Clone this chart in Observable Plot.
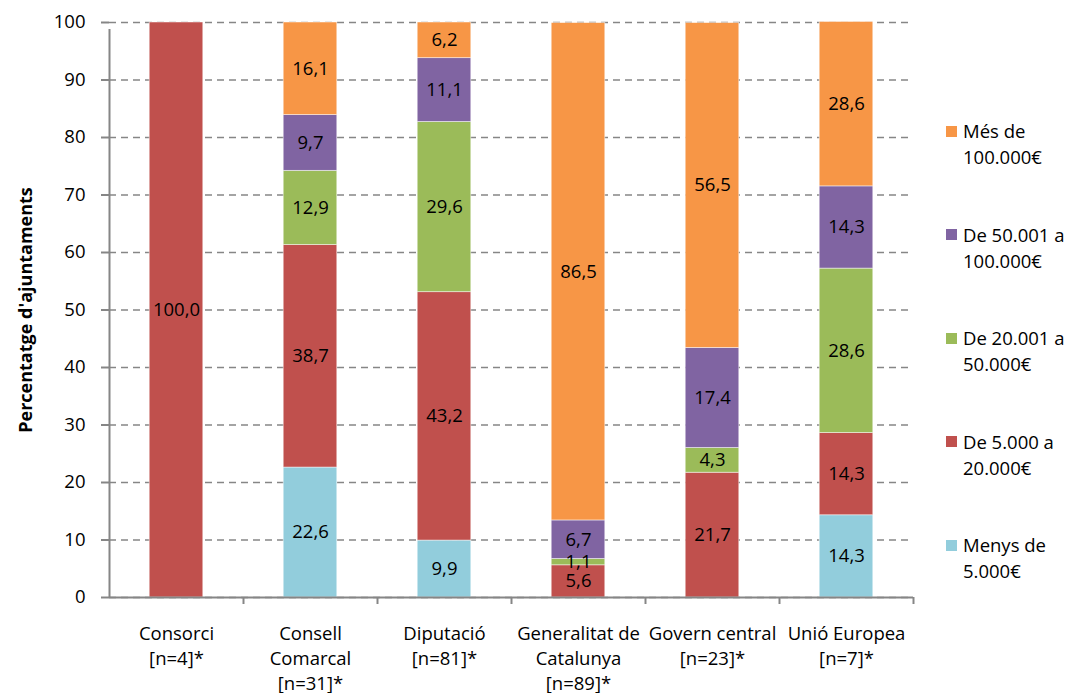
<!DOCTYPE html>
<html>
<head>
<meta charset="utf-8">
<script src="https://cdn.jsdelivr.net/npm/d3@7"></script>
<script src="https://cdn.jsdelivr.net/npm/@observablehq/plot@0.6"></script>
<style>
  html, body { margin: 0; padding: 0; background: #fff; }
  #wrap { position: relative; width: 1068px; height: 693px; font-family: "Open Sans", Lato, sans-serif; }
  #legend { position: absolute; left: 946px; top: 118px; font-size: 18.5px; color: #000; }
  .item { display: flex; align-items: flex-start; height: 52px; margin-bottom: 51.5px; }
  .sw { width: 11px; height: 11px; margin-top: 7.5px; margin-right: 6px; flex: none; }
  .lbl { line-height: 26px; white-space: pre; }
  g[aria-label="y-axis label"] text { font-weight: bold; font-size: 18px; }
</style>
</head>
<body>
<div id="wrap"><div id="chart"></div><div id="legend"></div></div>
<script>
const categories = ["Consorci", "Consell Comarcal", "Diputació", "Generalitat de Catalunya", "Govern central", "Unió Europea"];
const categoryLabels = ["Consorci\n[n=4]*", "Consell\nComarcal\n[n=31]*", "Diputació\n[n=81]*", "Generalitat de\nCatalunya\n[n=89]*", "Govern central\n[n=23]*", "Unió Europea\n[n=7]*"];
const seriesNames = ["Menys de 5.000€", "De 5.000 a 20.000€", "De 20.001 a 50.000€", "De 50.001 a 100.000€", "Més de 100.000€"];
const legendLabels = ["Menys de\n5.000€", "De 5.000 a\n20.000€", "De 20.001 a\n50.000€", "De 50.001 a\n100.000€", "Més de\n100.000€"];
const seriesColors = ["#92CDDC", "#C0504D", "#9BBB59", "#8064A2", "#F79646"];
const menys5000 = [0, 22.6, 9.9, 0, 0, 14.3];
const de5000a20000 = [100.0, 38.7, 43.2, 5.6, 21.7, 14.3];
const de20001a50000 = [0, 12.9, 29.6, 1.1, 4.3, 28.6];
const de50001a100000 = [0, 9.7, 11.1, 6.7, 17.4, 14.3];
const mes100000 = [0, 16.1, 6.2, 86.5, 56.5, 28.6];
const yTicks = [0, 10, 20, 30, 40, 50, 60, 70, 80, 90, 100];

const seriesValues = [menys5000, de5000a20000, de20001a50000, de50001a100000, mes100000];
const data = [];
seriesNames.forEach((s, si) => categories.forEach((c, ci) => {
  const v = seriesValues[si][ci];
  if (v > 0) data.push({category: c, series: s, value: v});
}));
const labelOf = new Map(categories.map((c, i) => [c, categoryLabels[i]]));
const fmt = v => v.toFixed(1).replace(".", ",");

const W = 1068, H = 693, mL = 109, mR = 155, mT = 22, mB = 96;
const bw = (W - mL - mR) / categories.length;
const gray = "#868686";

const chart = Plot.plot({
  width: W, height: H,
  marginLeft: mL, marginRight: mR, marginTop: mT, marginBottom: mB,
  style: {fontFamily: "'Open Sans', Lato, sans-serif", fontSize: "18.5px", color: "#000", background: "#fff"},
  x: {type: "band", domain: categories, paddingInner: 0, paddingOuter: 0},
  y: {domain: [0, 100]},
  color: {domain: seriesNames, range: seriesColors},
  marks: [
    Plot.gridY(yTicks, {stroke: gray, strokeOpacity: 1, strokeWidth: 1.6, strokeDasharray: "7,5"}),
    Plot.barY(data, Plot.stackY({x: "category", y: "value", fill: "series", order: seriesNames,
      insetLeft: bw * 0.3, insetRight: bw * 0.3, stroke: "#fff", strokeWidth: 0.8, strokeOpacity: 0.6})),
    Plot.text(data, Plot.stackY({x: "category", y: "value", z: "series", order: seriesNames,
      text: d => fmt(d.value), fill: "#000", fontSize: 18.5})),
    Plot.ruleX(categories, {x: d => d, dx: -bw / 2, y1: 0, y2: d => d === categories[0] ? 100 : 0, insetBottom: -7, stroke: gray, strokeWidth: 2}),
    Plot.ruleX([categories[categories.length - 1]], {x: d => d, dx: bw / 2, y1: 0, y2: 0, insetBottom: -7, stroke: gray, strokeWidth: 2}),
    Plot.ruleY([0], {stroke: gray, strokeWidth: 2}),
    Plot.axisY(yTicks, {tickSize: 8, tickPadding: 16, stroke: gray, fill: "#000", strokeWidth: 2,
      label: "Percentatge d'ajuntaments", labelAnchor: "center", labelArrow: "none", labelOffset: 90}),
    Plot.axisX({tickSize: 0, tickPadding: 25, tickFormat: c => labelOf.get(c), lineHeight: 1.35, fill: "#000", label: null})
  ]
});
document.getElementById("chart").appendChild(chart);

const legend = document.getElementById("legend");
for (let i = seriesNames.length - 1; i >= 0; i--) {
  const item = document.createElement("div");
  item.className = "item";
  const sw = document.createElement("div");
  sw.className = "sw";
  sw.style.background = seriesColors[i];
  const lbl = document.createElement("div");
  lbl.className = "lbl";
  lbl.textContent = legendLabels[i];
  item.appendChild(sw); item.appendChild(lbl);
  legend.appendChild(item);
}
</script>
</body>
</html>
